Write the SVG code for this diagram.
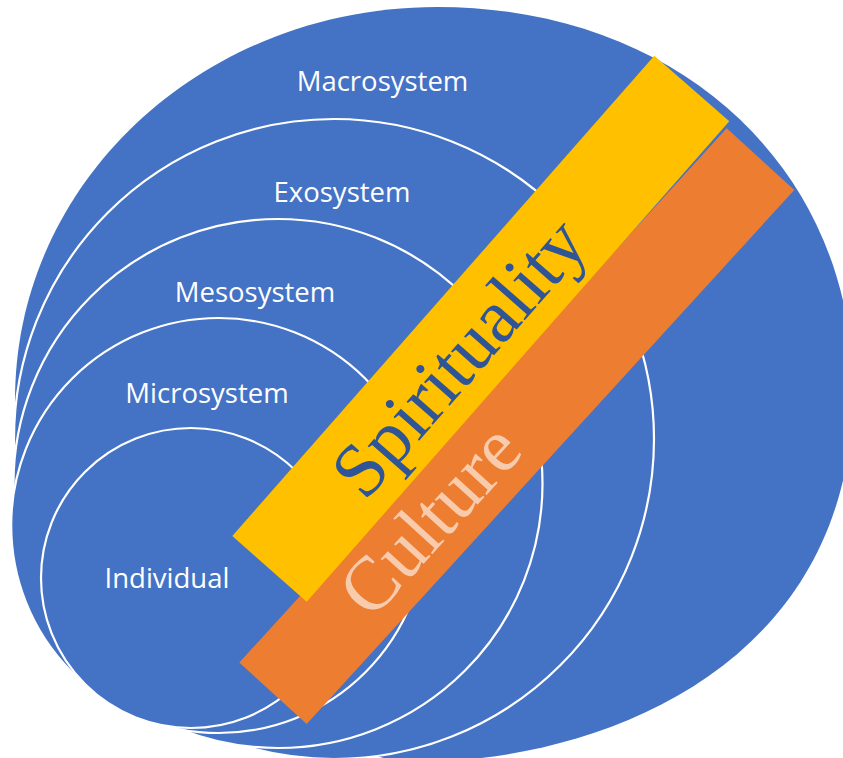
<svg xmlns="http://www.w3.org/2000/svg" width="843" height="758" viewBox="0 0 843 758">
  <style>
    .field { fill: #4472C4; }
    .ring { fill: #4472C4; stroke: #FFFFFF; stroke-width: 2.2; }
    .label { font-family: "Open Sans", "Liberation Sans", sans-serif; font-size: 27.5px; fill: #FFFFFF; text-anchor: middle; }
    .band-text { font-family: "Liberation Serif", "DejaVu Serif", serif; font-size: 76px; text-anchor: middle; }
  </style>

  <!-- Outer field: macrosystem -->
  <g id="macrosystem">
    <path class="field" d="M437,7 C678,7 853,168 853,390 C853,670 595,762 415,762 C330,762 15,620 15,400 C15,180 205,7 437,7 Z"/>
    <text class="label" x="382.5" y="90.7">Macrosystem</text>
  </g>

  <!-- Nested rings, outermost first -->
  <g id="exosystem">
    <circle class="ring" cx="334" cy="439" r="320"/>
    <text class="label" x="342" y="201.7">Exosystem</text>
  </g>

  <g id="mesosystem">
    <circle class="ring" cx="278" cy="483.5" r="264.5"/>
    <text class="label" x="255" y="301.7">Mesosystem</text>
  </g>

  <g id="microsystem">
    <circle class="ring" cx="218.7" cy="525.5" r="207.5"/>
    <text class="label" x="207" y="402.7">Microsystem</text>
  </g>

  <g id="individual">
    <circle class="ring" cx="191" cy="578" r="150"/>
    <text class="label" x="167" y="588">Individual</text>
  </g>

  <!-- Diagonal bands crossing the rings -->
  <g id="culture">
    <polygon fill="#ED7D31" points="726.7,128.3 794.3,190 306.7,724 239.3,662.5"/>
    <text class="band-text" fill="#F8CBAD" transform="translate(448.4,536.6) rotate(-47.6)">Culture</text>
  </g>

  <g id="spirituality">
    <polygon fill="#FFC000" points="654.3,55.7 729.3,121.3 306.7,601.7 232.3,536"/>
    <text class="band-text" fill="#2F5597" transform="translate(477.8,373.8) rotate(-48.7)">Spirituality</text>
  </g>
</svg>
